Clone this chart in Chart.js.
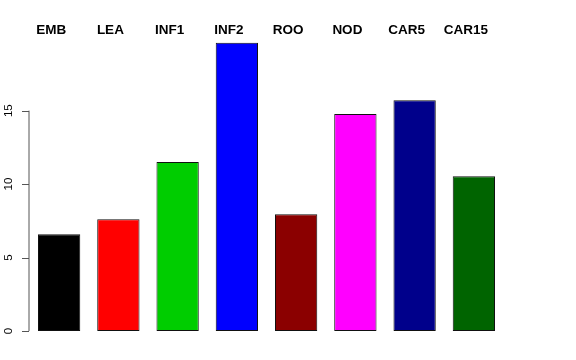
<!DOCTYPE html>
<html>
<head>
<meta charset="utf-8">
<script src="https://cdn.jsdelivr.net/npm/chart.js@4"></script>
<style>
  html, body { margin: 0; padding: 0; background: #fff; }
  #wrap { width: 576px; height: 360px; }
</style>
</head>
<body>
<div id="wrap"><canvas id="grafico" width="576" height="360"></canvas></div>
<script>
// dados
const categorias = ["EMB", "LEA", "INF1", "INF2", "ROO", "NOD", "CAR5", "CAR15"];
const valores = [6.58, 7.6, 11.5, 19.62, 7.95, 14.77, 15.7, 10.53];
const cores = ["#000000", "#FF0000", "#00CD00", "#0000FF", "#8B0000", "#FF00FF", "#00008B", "#006400"];
const ticksY = [0, 5, 10, 15];

// eixo Y no estilo do R (linha de 0 a 15, rotulos girados)
const eixoR = {
  id: "eixoR",
  afterDraw(chart) {
    const ctx = chart.ctx;
    const y = chart.scales.y;
    const x0 = chart.chartArea.left - 0.5;
    ctx.save();
    ctx.strokeStyle = "#555";
    ctx.lineWidth = 1;
    ctx.beginPath();
    ctx.moveTo(x0, y.getPixelForValue(ticksY[0]));
    ctx.lineTo(x0, y.getPixelForValue(ticksY[ticksY.length - 1]));
    ticksY.forEach(t => {
      const py = Math.round(y.getPixelForValue(t)) + 0.5;
      ctx.moveTo(x0, py);
      ctx.lineTo(x0 - 7, py);
    });
    ctx.stroke();
    ctx.fillStyle = "#000";
    ctx.font = "11.5px 'Liberation Sans', Arial, sans-serif";
    ctx.textAlign = "center";
    ctx.textBaseline = "middle";
    ticksY.forEach(t => {
      ctx.save();
      ctx.translate(9, y.getPixelForValue(t));
      ctx.rotate(-Math.PI / 2);
      ctx.fillText(String(t), 0, 0);
      ctx.restore();
    });
    ctx.restore();
  }
};

// rotulos das categorias no topo
const rotulosTopo = {
  id: "rotulosTopo",
  afterDraw(chart) {
    const ctx = chart.ctx;
    const x = chart.scales.x;
    ctx.save();
    ctx.fillStyle = "#000";
    ctx.font = "bold 13.5px 'Liberation Sans', Arial, sans-serif";
    ctx.textAlign = "center";
    ctx.textBaseline = "middle";
    categorias.forEach((c, i) => {
      ctx.fillText(c, x.getPixelForValue(i) - 8, 30);
    });
    ctx.restore();
  }
};

new Chart(document.getElementById("grafico"), {
  type: "bar",
  data: {
    labels: categorias,
    datasets: [{
      data: valores,
      backgroundColor: cores,
      borderColor: "#111",
      borderWidth: 1,
      borderSkipped: false,
      categoryPercentage: 1,
      barPercentage: 0.714
    }]
  },
  options: {
    responsive: false,
    animation: false,
    layout: { padding: { left: 29.5, right: 72.5, top: 37.2, bottom: 29 } },
    plugins: { legend: { display: false }, tooltip: { enabled: false } },
    scales: {
      x: { display: false },
      y: { display: false, min: 0, max: 20 }
    }
  },
  plugins: [eixoR, rotulosTopo]
});
</script>
</body>
</html>
